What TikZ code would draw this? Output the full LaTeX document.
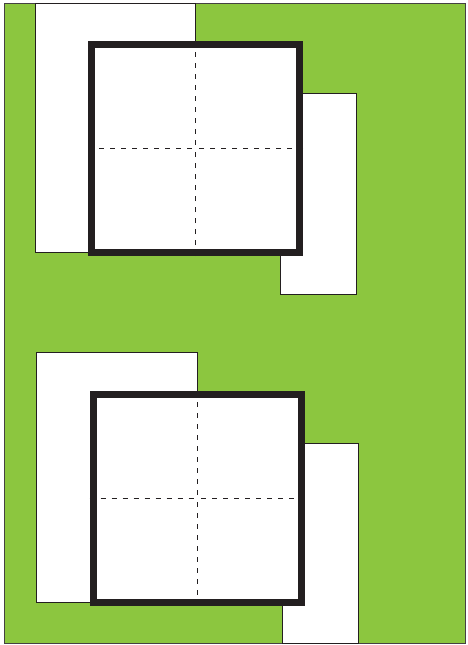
\documentclass[tikz,border=0pt]{standalone}
\definecolor{leaf}{HTML}{8CC63F}
\definecolor{ink}{HTML}{231F20}
\begin{document}
\begin{tikzpicture}[x=1pt,y=-1pt,
  bg/.style={fill=leaf,draw=ink!85,line width=1pt},
  sheet/.style={fill=white,draw=ink,line width=1pt},
  frame/.style={fill=white,draw=ink,line width=7pt,line join=miter},
  guide/.style={draw=ink,line width=0.9pt,dash pattern=on 5pt off 6pt}]
\useasboundingbox (0,0) rectangle (467,645);
\draw[bg] (4.5,3.5) rectangle (465.5,643.5);
% upper group
\draw[sheet] (35,3.5) rectangle (195.5,252.7);
\draw[sheet] (280.7,93.5) rectangle (356,294.3);
\node[frame,inner sep=0pt,minimum width=208pt,minimum height=208pt] (sq1) at (195.6,148.6) {};
\draw[guide] (sq1.north) -- (sq1.center);
\draw[guide] (sq1.south) -- (sq1.center);
\draw[guide] (sq1.west) -- (sq1.center);
\draw[guide] (sq1.east) -- (sq1.center);
% lower group
\draw[sheet] (36.7,352.7) rectangle (197.3,602.3);
\draw[sheet] (282.7,443.3) rectangle (358,643.5);
\node[frame,inner sep=0pt,minimum width=208pt,minimum height=207.5pt] (sq2) at (197.2,498.3) {};
\draw[guide] (sq2.north) -- (sq2.center);
\draw[guide] (sq2.south) -- (sq2.center);
\draw[guide] (sq2.west) -- (sq2.center);
\draw[guide] (sq2.east) -- (sq2.center);
\end{tikzpicture}
\end{document}
